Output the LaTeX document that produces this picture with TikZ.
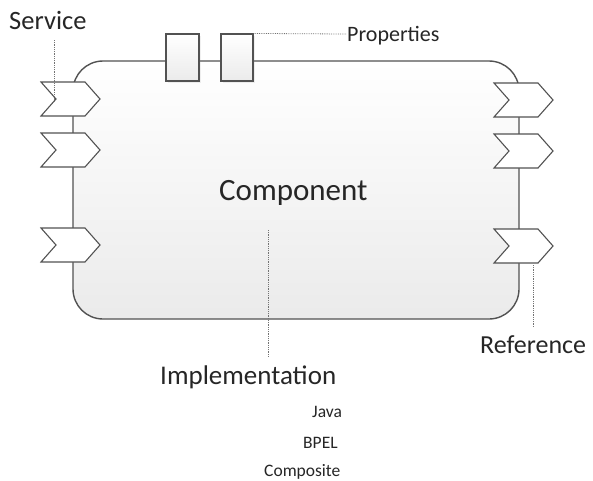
\documentclass[tikz,border=0pt]{standalone}
\usepackage{fontspec}
\setmainfont{Carlito}
\usetikzlibrary{shadows}
\newcommand{\mychev}[3]{%
  \draw[chev] (#1,#2-17) -- ++(44,0) -- ++(15,17) -- ++(-15,17) -- ++(-44,0) -- ++(15,-17) -- cycle;
  \coordinate (#3) at (#1+15,#2);
  \coordinate (#3b) at (#1+39,#2+17);}
\begin{document}
\begin{tikzpicture}[x=1pt,y=-1pt,
  frame/.style={draw=black!68, line width=1.4pt},
  chev/.style={draw=black!68, line width=1.1pt, fill=white, line join=miter},
  propbox/.style={draw=black!68, line width=1.1pt, top color=white, bottom color=black!8,
    drop shadow={opacity=0.12, shadow xshift=1.5pt, shadow yshift=-1.5pt}},
  lead/.style={draw=black!55, densely dotted, line width=0.8pt},
  lbl/.style={inner sep=0pt, text=black!85}]
\useasboundingbox (0,0) rectangle (593,480);
% component body
\node[frame, rounded corners=30pt, minimum width=446pt, minimum height=258pt,
  top color=white, bottom color=black!8, inner sep=0pt] (comp) at (296,190) {};
% property boxes
\node[propbox, minimum width=33pt, minimum height=47pt, inner sep=0pt] (p1) at (182.5,57.5) {};
\node[propbox, minimum width=32pt, minimum height=47pt, inner sep=0pt] (p2) at (237,57.5) {};
% service chevrons
\mychev{41}{99}{s1}
\mychev{41}{150}{s2}
\mychev{41}{245}{s3}
% reference chevrons
\mychev{494}{100}{r1}
\mychev{494}{151}{r2}
\mychev{494}{246}{r3}
% labels
\node[lbl, anchor=base west, font=\fontsize{31}{31}\selectfont] (ctext) at (219,200) {Component};
\node[lbl, anchor=base west, font=\fontsize{26.5}{26.5}\selectfont] (service) at (9,29) {Service};
\node[lbl, anchor=base west, font=\fontsize{22}{22}\selectfont] (props) at (347,41) {Properties};
\node[lbl, anchor=base west, font=\fontsize{26}{26}\selectfont] (ref) at (480,353) {Reference};
\node[lbl, anchor=base west, font=\fontsize{27}{27}\selectfont] (impl) at (160,384) {Implementation};
\node[lbl, anchor=base west, font=\fontsize{17.5}{17.5}\selectfont] (java) at (312,417) {Java};
\node[lbl, anchor=base west, font=\fontsize{17.5}{17.5}\selectfont] (bpel) at (303,448) {BPEL};
\node[lbl, anchor=base west, font=\fontsize{17.5}{17.5}\selectfont] (compo) at (264,476) {Composite};
% leader lines
\coordinate (implTop) at (268,230);
\coordinate (implEnd) at (268,357);
\coordinate (servEnd) at (54,40);
\coordinate (refEnd) at (533,327);
\coordinate (propEnd) at (346,34);
\draw[lead] (servEnd) -- (s1 -| servEnd) -- ++(0,3);
\draw[lead] (p2.north east) -- (propEnd);
\draw[lead] (r3b) ++(0,2) coordinate (rs) -- (rs |- refEnd);
\draw[lead] (implTop) -- (implEnd);
\end{tikzpicture}
\end{document}
